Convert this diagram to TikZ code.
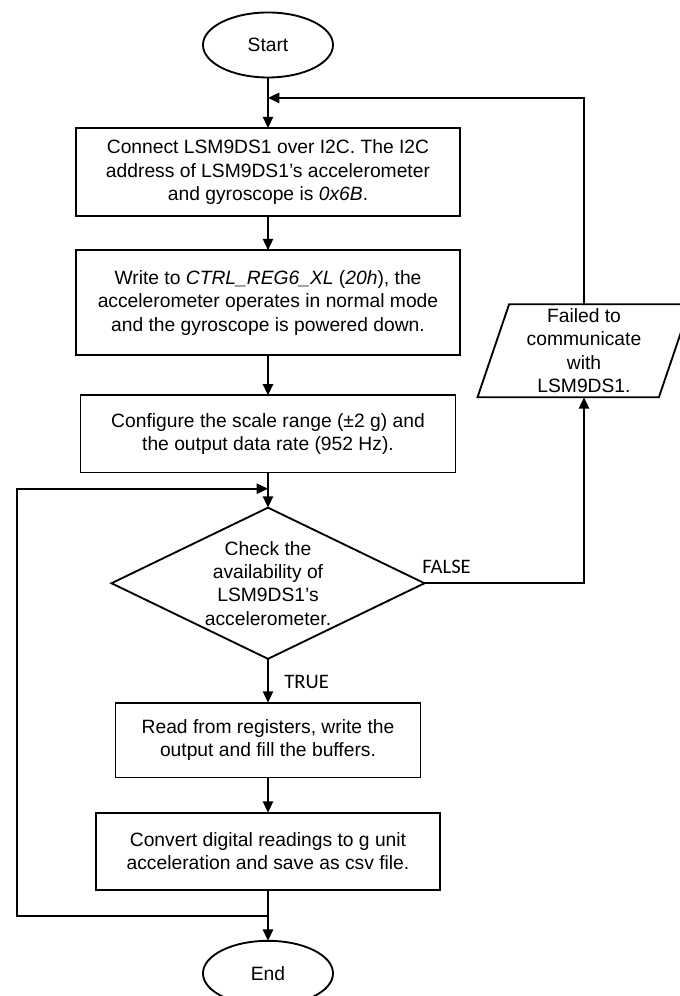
\documentclass[tikz,border=0pt]{standalone}
\usepackage{fontspec}
\setmainfont{Liberation Sans}
\newfontfamily\answerfont{Carlito}
\usetikzlibrary{positioning, arrows.meta, shapes}
\tikzset{
every node/.style = {font = \fontsize{14.5}{17.6}\selectfont},
terminal/.style = {ellipse, draw, line width = 1.4pt, minimum width = 34.4mm,
   minimum height = 17.2mm, inner sep = 0pt, outer sep = 0pt},
process/.style = {rectangle, draw, line width = 1.4pt, inner sep = 2pt,
   outer sep = 0pt, align = center},
decision/.style = {diamond, draw, line width = 1.4pt, inner sep = 0pt, outer sep = 0pt,
   aspect = 2.07, minimum width = 82.8mm, minimum height = 40mm, align = center},
output/.style = {trapezium, trapezium left angle = 74, trapezium right angle = 106,
   trapezium stretches = true, draw, line width = 1.4pt, inner sep = 0pt,
   outer sep = 0pt, minimum width = 56.4mm, minimum height = 24.6mm, align = center},
flow/.style = {-{Triangle[length = 3mm, width = 2.7mm]}, line width = 1.4pt},
answer/.style = {font = \answerfont\fontsize{15.5}{18}\selectfont, inner sep = 0pt}
}
\begin{document}
\begin{tikzpicture}

\useasboundingbox (-70.9mm, 11.9mm) rectangle (109mm, -251.6mm);

%% Steps
\node [terminal] (start) {Start};
\node [process, minimum width = 101.6mm, minimum height = 23.3mm] (connect)
   [below = 13.4mm of start]
   {Connect LSM9DS1 over I2C. The I2C\\ address of LSM9DS1’s accelerometer\\
    and gyroscope is \textit{0x6B}.};
\node [process, minimum width = 101.6mm, minimum height = 27.8mm] (write)
   [below = 9mm of connect]
   {Write to \textit{CTRL\_REG6\_XL} (\textit{20h}), the\\ accelerometer operates
    in normal mode\\ and the gyroscope is powered down.};
\node [process, minimum width = 99.2mm, minimum height = 20.4mm] (config)
   [below = 10.6mm of write]
   {Configure the scale range (±2 g) and\\ the output data rate (952 Hz).};
\node [decision] (check) [below = 9.3mm of config]
   {Check the\\ availability of\\ LSM9DS1’s\\ accelerometer.};
\node [process, minimum width = 80.7mm, minimum height = 19.8mm] (read)
   [below = 11.6mm of check]
   {Read from registers, write the\\ output and fill the buffers.};
\node [process, minimum width = 90.8mm, minimum height = 20.4mm] (convert)
   [below = 9.3mm of read]
   {Convert digital readings to g unit\\ acceleration and save as csv file.};
\node [terminal] (finish) [below = 13.5mm of convert] {End};

\node [output] (fail) [right = 32.8mm of write.east, anchor = center, yshift = -12.7mm]
   {Failed to\\ communicate\\ with\\ LSM9DS1.};

%% Junctions
\coordinate [below = 5.4mm of start] (join1);
\coordinate [above = 5mm of check] (join2);
\coordinate [below = 6.9mm of convert] (join3);
\coordinate [left = 66.4mm of join3] (loop);

%% Main flow
\path [flow] (start) edge (connect);
\path [flow] (connect) edge (write);
\path [flow] (write) edge (config);
\path [flow] (config) edge (check);
\path [flow] (check) edge node [answer, right = 4.1mm, pos = 0.52] {TRUE} (read);
\path [flow] (read) edge (convert);
\path [flow] (convert) edge (finish);

%% Failure branch
\draw [flow] (check.east) -| (fail.south)
   node [answer, pos = 0, above right = 2.4mm and -0.8mm] {FALSE};
\draw [flow] (fail.north) |- (join1);

%% Loop back
\draw [flow] (join3) -- (loop) |- (join2);

\end{tikzpicture}
\end{document}
